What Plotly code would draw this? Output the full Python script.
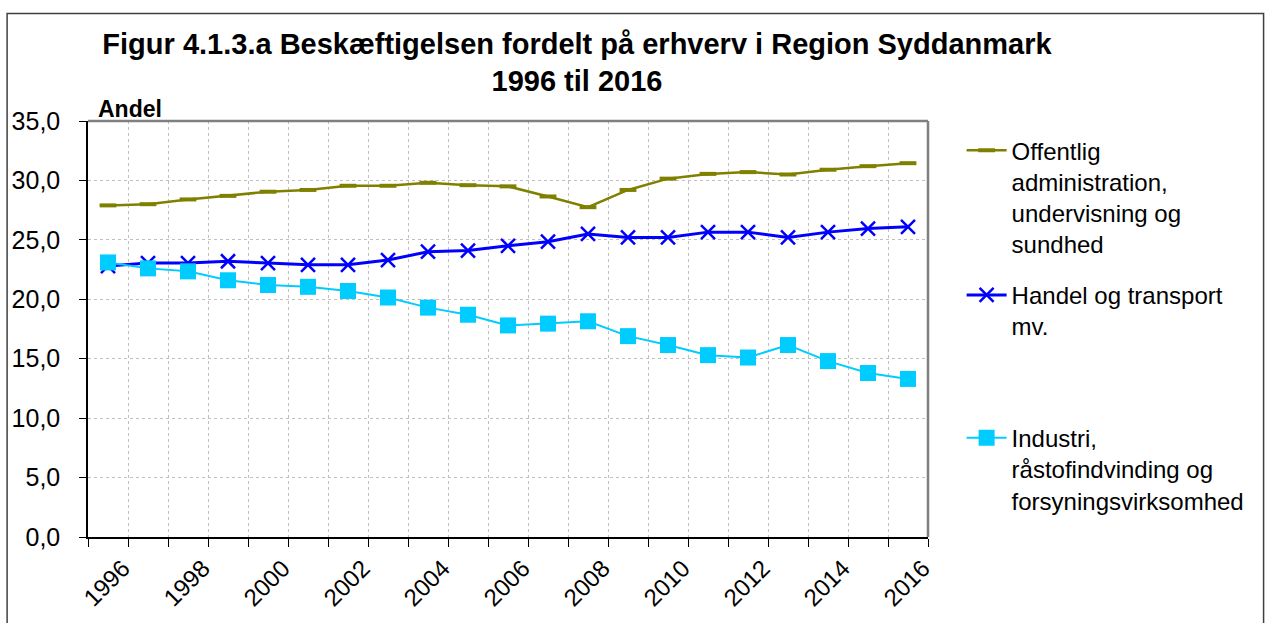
import plotly.graph_objects as go

# ── Data ─────────────────────────────────────────────────────────────────────
years = list(range(1996, 2017))

offentlig = [27.9, 28.0, 28.4, 28.7, 29.05, 29.2, 29.55, 29.55, 29.8, 29.6, 29.5,
             28.65, 27.75, 29.2, 30.15, 30.55, 30.7, 30.5, 30.9, 31.2, 31.45]
handel = [22.8, 23.05, 23.05, 23.2, 23.05, 22.9, 22.9, 23.3, 24.0, 24.1, 24.5,
          24.85, 25.5, 25.2, 25.2, 25.65, 25.65, 25.2, 25.65, 25.95, 26.1]
industri = [23.1, 22.6, 22.35, 21.6, 21.2, 21.05, 20.7, 20.15, 19.3, 18.7, 17.8,
            17.95, 18.15, 16.9, 16.15, 15.3, 15.1, 16.15, 14.8, 13.8, 13.3]

names = [
    "Offentlig<br>administration,<br>undervisning og<br>sundhed",
    "Handel og transport<br>mv.",
    "Industri,<br>råstofindvinding og<br>forsyningsvirksomhed",
]
label_years = years[::2]

OLIVE = "#808000"
BLUE = "#0000FF"
CYAN = "#00CCFF"
FONT = "Liberation Sans, Arial, sans-serif"

fig = go.Figure()

fig.add_trace(go.Scatter(
    x=years, y=offentlig, name=names[0], mode="lines+markers",
    line=dict(color=OLIVE, width=2.5),
    marker=dict(symbol="line-ew", size=12, line=dict(color=OLIVE, width=4)),
    legend="legend",
))
fig.add_trace(go.Scatter(
    x=years, y=handel, name=names[1], mode="lines+markers",
    line=dict(color=BLUE, width=3),
    marker=dict(symbol="x-thin", size=14, line=dict(color=BLUE, width=2.5)),
    legend="legend2",
))
fig.add_trace(go.Scatter(
    x=years, y=industri, name=names[2], mode="lines+markers",
    line=dict(color=CYAN, width=2),
    marker=dict(symbol="square", size=16, color=CYAN),
    legend="legend3",
))

# ── Frames ───────────────────────────────────────────────────────────────────
fig.add_shape(type="line", xref="paper", yref="paper", x0=0, x1=1, y0=1, y1=1,
              line=dict(color="#808080", width=2.5))
fig.add_shape(type="line", xref="paper", yref="paper", x0=1, x1=1, y0=0, y1=1,
              line=dict(color="#808080", width=2.5))
fig.add_shape(type="rect", xref="paper", yref="paper",
              x0=-0.0963, x1=1.3995, y0=-0.5, y1=1.2583,
              line=dict(color="#404040", width=1.5))

fig.add_annotation(
    xref="paper", yref="paper", x=0.0095, y=1.0285,
    xanchor="left", yanchor="middle", showarrow=False,
    text="<b>Andel</b>", font=dict(size=23, color="black", family=FONT),
)

leg = dict(
    font=dict(size=24, color="black", family=FONT),
    bgcolor="rgba(0,0,0,0)", xanchor="left", yanchor="top",
    itemwidth=40, x=1.040, valign="top",
)

fig.update_layout(
    width=1272, height=623,
    paper_bgcolor="white", plot_bgcolor="white",
    margin=dict(l=87, r=344, t=121, b=80),
    separators=",.",
    showlegend=True,
    font=dict(family=FONT, color="black"),
    title=dict(
        text="<b>Figur 4.1.3.a Beskæftigelsen fordelt på erhverv i Region Syddanmark<br>1996 til 2016</b>",
        font=dict(size=29, color="black", family=FONT),
        x=0.4536, xanchor="center", y=0.914, yanchor="top",
    ),
    legend=dict(leg, y=0.983),
    legend2=dict(leg, y=0.635),
    legend3=dict(leg, y=0.2915),
    xaxis=dict(
        range=[1995.5, 2016.5],
        tickmode="array", tickvals=label_years, ticktext=[str(y) for y in label_years],
        ticks="", showgrid=False, tickangle=-45,
        ticklabelshift=15, ticklabelstandoff=6,
        tickfont=dict(size=24, color="black"),
        showline=True, linecolor="black", linewidth=1.5,
        zeroline=False,
        minor=dict(tick0=1995.5, dtick=1, ticks="outside", ticklen=8,
                   tickcolor="black", showgrid=True, gridcolor="#c0c0c0",
                   griddash="dot", gridwidth=1),
    ),
    yaxis=dict(
        range=[0, 35], dtick=5, tickformat=".1f",
        ticks="outside", ticklen=7, tickcolor="black",
        ticklabelstandoff=14,
        tickfont=dict(size=25, color="black"),
        showline=True, linecolor="black", linewidth=1.5,
        showgrid=True, gridcolor="#c0c0c0", griddash="dot", gridwidth=1,
        zeroline=False,
    ),
)

fig.write_html("out.html", config={"displayModeBar": False},
               post_script="document.body.style.margin='0px';")
